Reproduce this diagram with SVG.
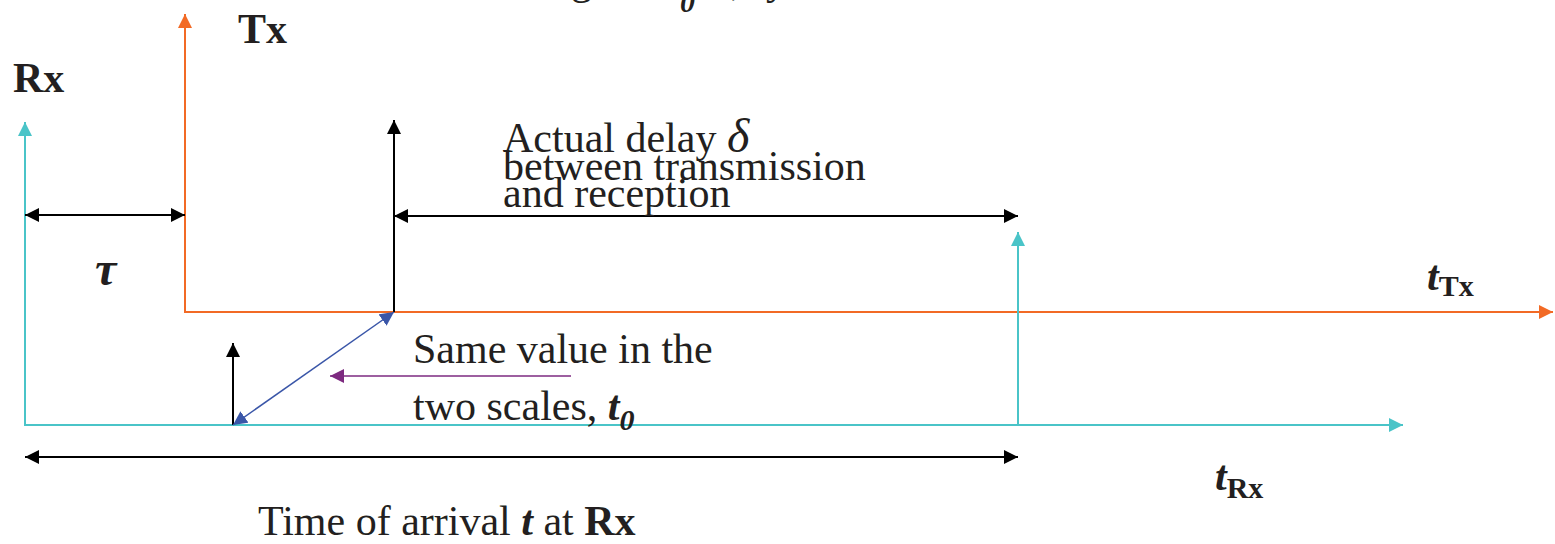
<svg xmlns="http://www.w3.org/2000/svg" width="1555" height="544" viewBox="0 0 1555 544">
<style>
text{font-family:"Liberation Serif","Times New Roman",serif;fill:#231f20}
.b{font-weight:bold}
.bi{font-weight:bold;font-style:italic}
.i{font-style:italic}
.lbl{font-size:42px}
.sub{font-size:30px}
</style>
<defs>
<marker id="ab" markerUnits="userSpaceOnUse" markerWidth="16" markerHeight="14" refX="14" refY="7" orient="auto-start-reverse"><path d="M0,0 L14,7 L0,14 Z" fill="#000"/></marker>
<marker id="ao" markerUnits="userSpaceOnUse" markerWidth="16" markerHeight="14" refX="14" refY="7" orient="auto-start-reverse"><path d="M0,0 L14,7 L0,14 Z" fill="#f26a25"/></marker>
<marker id="ac" markerUnits="userSpaceOnUse" markerWidth="16" markerHeight="14" refX="14" refY="7" orient="auto-start-reverse"><path d="M0,0 L14,7 L0,14 Z" fill="#4ac4c8"/></marker>
<marker id="al" markerUnits="userSpaceOnUse" markerWidth="16" markerHeight="14" refX="14" refY="7" orient="auto-start-reverse"><path d="M0,0 L14,7 L0,14 Z" fill="#3a56a8"/></marker>
<marker id="ap" markerUnits="userSpaceOnUse" markerWidth="16" markerHeight="14" refX="14" refY="7" orient="auto-start-reverse"><path d="M0,0 L14,7 L0,14 Z" fill="#7d2a80"/></marker>
</defs>
<g id="connectors" fill="none">
<polyline points="185,14 185,312 1553,312" stroke="#f26a25" stroke-width="2" marker-start="url(#ao)" marker-end="url(#ao)"/>
<polyline points="25,122 25,425 1403,425" stroke="#4ac4c8" stroke-width="2" marker-start="url(#ac)" marker-end="url(#ac)"/>
<line x1="1018" y1="425" x2="1018" y2="232" stroke="#4ac4c8" stroke-width="2" marker-end="url(#ac)"/>
<line x1="25" y1="215" x2="185" y2="215" stroke="#000" stroke-width="2" marker-start="url(#ab)" marker-end="url(#ab)"/>
<line x1="394" y1="312" x2="394" y2="120" stroke="#000" stroke-width="2" marker-end="url(#ab)"/>
<line x1="394" y1="216" x2="1018" y2="216" stroke="#000" stroke-width="2" marker-start="url(#ab)" marker-end="url(#ab)"/>
<line x1="233" y1="425" x2="233" y2="343" stroke="#000" stroke-width="2" marker-end="url(#ab)"/>
<line x1="233" y1="425" x2="394" y2="312" stroke="#3a56a8" stroke-width="1.5" marker-start="url(#al)" marker-end="url(#al)"/>
<line x1="571" y1="376" x2="330" y2="376" stroke="#7d2a80" stroke-width="1.5" marker-end="url(#ap)"/>
<line x1="25" y1="457" x2="1018" y2="457" stroke="#000" stroke-width="2" marker-start="url(#ab)" marker-end="url(#ab)"/>
</g>
<g id="top-label"><text class="lbl" y="-6"><tspan x="592" text-anchor="end">Sending</tspan><tspan x="606">at</tspan><tspan class="bi" x="655">t</tspan><tspan class="bi sub" x="680" y="12">0</tspan><tspan x="731" y="-6">,</tspan><tspan x="745">by Tx</tspan></text></g>
<g id="tx-label"><text class="lbl b" x="238" y="43">Tx</text></g>
<g id="rx-label"><text class="lbl b" x="13" y="92">Rx</text></g>
<g id="tau-label"><text class="bi" font-size="48" x="95" y="285">τ</text></g>
<g id="delay-label"><text class="lbl" x="503" y="152">Actual delay <tspan class="i" font-size="48">δ</tspan></text><text class="lbl" x="503" y="180">between transmission</text><text class="lbl" x="503" y="207">and reception</text></g>
<g id="same-label"><text class="lbl" x="413" y="363">Same value in the</text><text class="lbl" x="413" y="420">two scales, <tspan class="bi">t</tspan><tspan class="bi sub" dy="10">0</tspan></text></g>
<g id="ttx-label"><text class="lbl bi" x="1427" y="290">t<tspan class="b sub" font-style="normal" dy="6">Tx</tspan></text></g>
<g id="trx-label"><text class="lbl bi" x="1215" y="490">t<tspan class="b sub" font-style="normal" dy="8">Rx</tspan></text></g>
<g id="toa-label"><text class="lbl" x="258" y="535">Time of arrival <tspan class="bi">t</tspan> at <tspan class="b">Rx</tspan></text></g>
</svg>
